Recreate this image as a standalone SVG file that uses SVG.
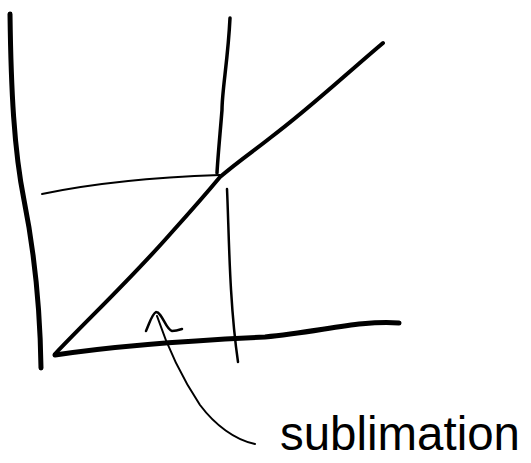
<svg xmlns="http://www.w3.org/2000/svg" width="531" height="463" viewBox="0 0 531 463">
<style>
.ink{fill:none;stroke:#000;stroke-linecap:round;stroke-linejoin:round}
.label{font-family:"Liberation Sans","DejaVu Sans",sans-serif;fill:#000}
</style>
<rect width="531" height="463" fill="#fff"/>
<g id="axes">
<path class="ink" stroke-width="5" d="M10,14 C11,90 14,150 24,200 C34,250 40,300 41,368"/>
<path class="ink" stroke-width="5" d="M55,355 C120,345 200,340 265,337 C320,332 360,320 399,323"/>
</g>
<g id="guides">
<path class="ink" stroke-width="3.5" d="M230,18 C228,60 222,90 222,110 C220,135 218,155 217,173"/>
<path class="ink" stroke-width="2.5" d="M227,189 C229,230 229,300 238,362"/>
<path class="ink" stroke-width="2" d="M42,194 C80,186 130,178 220,175"/>
</g>
<g id="curve">
<path class="ink" stroke-width="4" d="M55,354 C85,322 130,280 172,232 C190,212 205,195 220,177 C240,160 255,150 270,138 C310,108 345,75 383,43"/>
</g>
<g id="connectors">
<path class="ink" stroke-width="2.5" d="M146,331 C150,322 152,314 156,312 C162,312 166,330 172,331 C176,331 179,330 182,329"/>
<path class="ink" stroke-width="2" d="M157,316 C165,340 180,375 200,405 C215,425 235,440 255,444"/>
</g>
<g id="label">
<text class="label" x="280" y="450" font-size="48" textLength="240" lengthAdjust="spacingAndGlyphs">sublimation</text>
</g>
</svg>
